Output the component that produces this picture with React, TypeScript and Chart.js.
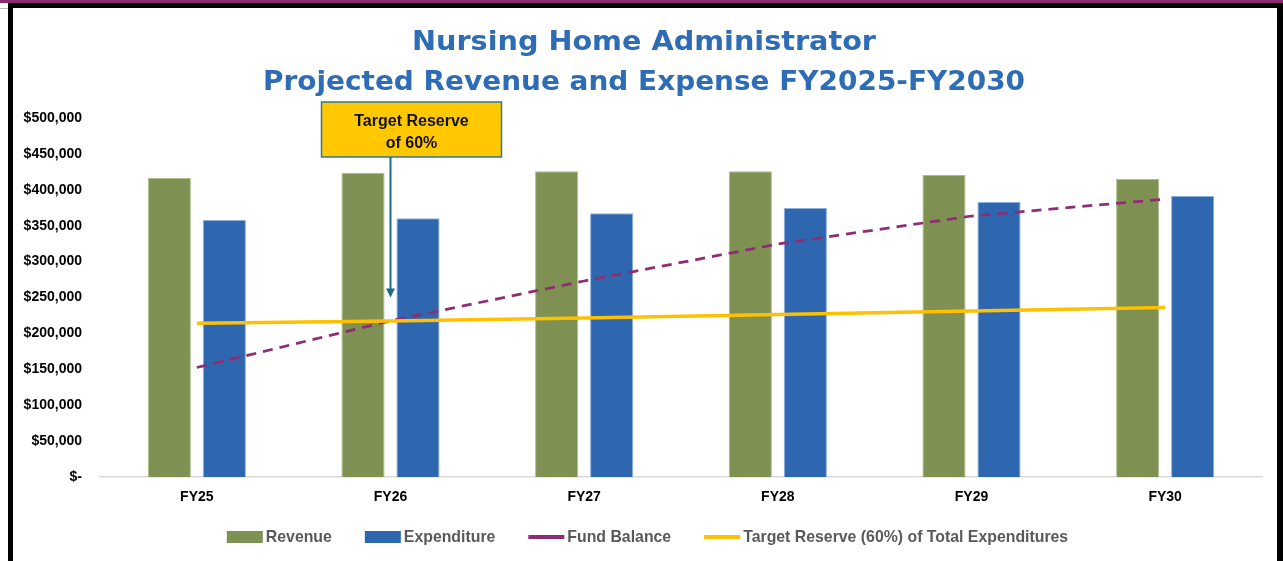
import React, { useEffect, useRef } from "react";
import { Chart, registerables } from "chart.js";

Chart.register(...registerables);

const categories = ["FY25", "FY26", "FY27", "FY28", "FY29", "FY30"];
const revenue = [416500, 423500, 426000, 426000, 420500, 415000];
const expenditure = [358000, 360500, 367500, 374500, 383000, 391500];
const fundBalance = [152500, 217500, 273000, 324500, 363500, 387000];
const targetReserve = [214000, 217300, 221600, 226300, 231200, 236100];
const seriesLabels = [
  "Revenue",
  "Expenditure",
  "Fund Balance",
  "Target Reserve (60%) of Total Expenditures",
];
const yMax = 500000;
const yStep = 50000;
const titleLines = [
  "Nursing Home Administrator",
  "Projected Revenue and Expense FY2025-FY2030",
];
const calloutLines = ["Target Reserve", "of 60%"];
const calloutCategory = 1;
const calloutTipValue = 250000;

const COLORS = {
  revenue: "#7F9152",
  revenueEdge: "#AFBD8C",
  expenditure: "#2E66B0",
  expenditureEdge: "#8EB0DD",
  fund: "#8E2C74",
  target: "#FFC000",
  title: "#2E6CB5",
  callout: "#FFC800",
  calloutEdge: "#2C7A94",
  arrow: "#1F6B84",
  legendText: "#595959",
};

const SANS = "'Liberation Sans', Arial, sans-serif";

function fittedText(
  ctx: CanvasRenderingContext2D,
  text: string,
  cx: number,
  baseline: number,
  font: string,
  targetWidth: number
) {
  ctx.save();
  ctx.font = font;
  const w = ctx.measureText(text).width;
  const sx = targetWidth / w;
  ctx.translate(cx, baseline);
  ctx.scale(sx, 1);
  ctx.textAlign = "center";
  ctx.textBaseline = "alphabetic";
  ctx.fillText(text, 0, 0);
  ctx.restore();
}

const decorPlugin = {
  id: "decor",
  afterDraw(chart: any) {
    const ctx: CanvasRenderingContext2D = chart.ctx;
    const area = chart.chartArea;
    const xs = chart.scales.x;
    const ys = chart.scales.y;

    // Title
    ctx.save();
    ctx.fillStyle = COLORS.title;
    const tFont = "bold 27px 'DejaVu Sans', sans-serif";
    const cx = 644;
    fittedText(ctx, titleLines[0], cx, area.top - 68, tFont, 464);
    fittedText(ctx, titleLines[1], cx, area.top - 28, tFont, 762);
    ctx.restore();

    // Callout box with arrow
    const ax = xs.getPixelForValue(calloutCategory);
    const boxL = ax - 69;
    const boxT = area.top - 16;
    const boxW = 180;
    const boxH = 55;
    ctx.save();
    ctx.fillStyle = COLORS.callout;
    ctx.fillRect(boxL, boxT, boxW, boxH);
    ctx.strokeStyle = COLORS.calloutEdge;
    ctx.lineWidth = 1.5;
    ctx.strokeRect(boxL, boxT, boxW, boxH);
    ctx.fillStyle = "#111";
    ctx.font = `bold 16px ${SANS}`;
    ctx.textAlign = "center";
    ctx.textBaseline = "middle";
    ctx.fillText(calloutLines[0], boxL + boxW / 2, boxT + 20);
    ctx.fillText(calloutLines[1], boxL + boxW / 2, boxT + 42);
    const tipY = ys.getPixelForValue(calloutTipValue);
    ctx.strokeStyle = COLORS.arrow;
    ctx.lineWidth = 2;
    ctx.beginPath();
    ctx.moveTo(ax, boxT + boxH);
    ctx.lineTo(ax, tipY - 7);
    ctx.stroke();
    ctx.fillStyle = COLORS.arrow;
    ctx.beginPath();
    ctx.moveTo(ax - 4.5, tipY - 9);
    ctx.lineTo(ax + 4.5, tipY - 9);
    ctx.lineTo(ax, tipY);
    ctx.closePath();
    ctx.fill();
    ctx.restore();

    // Legend
    const items = chart.data.datasets.map((ds: any) => ({
      label: ds.label as string,
      color: ds.type === "line" ? ds.borderColor : ds.backgroundColor,
      isLine: ds.type === "line",
    }));
    ctx.save();
    const lFont = `bold 17px ${SANS}`;
    ctx.font = lFont;
    let longest = 0;
    items.forEach((it: any) => {
      longest = Math.max(longest, ctx.measureText(it.label).width);
    });
    const sx = 325 / longest;
    const sw = 36;
    const gapText = 3;
    const gapItem = 33;
    const widths = items.map((it: any) => ctx.measureText(it.label).width * sx);
    let total = 0;
    widths.forEach((w: number, i: number) => {
      total += sw + gapText + w + (i > 0 ? gapItem : 0);
    });
    let x = chart.width / 2 + 6 - total / 2;
    const ly = area.bottom + 60;
    items.forEach((it: any, i: number) => {
      if (it.isLine) {
        ctx.strokeStyle = it.color;
        ctx.lineWidth = 4;
        ctx.setLineDash([]);
        ctx.beginPath();
        ctx.moveTo(x, ly);
        ctx.lineTo(x + sw, ly);
        ctx.stroke();
      } else {
        ctx.fillStyle = it.color;
        ctx.fillRect(x, ly - 6, sw, 12);
      }
      ctx.fillStyle = COLORS.legendText;
      ctx.save();
      ctx.translate(x + sw + gapText, ly);
      ctx.scale(sx, 1);
      ctx.textAlign = "left";
      ctx.textBaseline = "middle";
      ctx.fillText(it.label, 0, 0);
      ctx.restore();
      x += sw + gapText + widths[i] + gapItem;
    });
    ctx.restore();
  },
};

export default function App() {
  const ref = useRef<HTMLCanvasElement>(null);

  useEffect(() => {
    const canvas = ref.current;
    if (!canvas) return;
    const tickFont = { family: SANS, size: 14, weight: "bold" as const };
    const chart = new Chart(canvas, {
      type: "bar",
      data: {
        labels: categories,
        datasets: [
          {
            type: "bar",
            label: seriesLabels[0],
            data: revenue,
            backgroundColor: COLORS.revenue,
            borderColor: COLORS.revenueEdge,
            borderWidth: 1,
            order: 2,
          },
          {
            type: "bar",
            label: seriesLabels[1],
            data: expenditure,
            backgroundColor: COLORS.expenditure,
            borderColor: COLORS.expenditureEdge,
            borderWidth: 1,
            order: 2,
          },
          {
            type: "line",
            label: seriesLabels[2],
            data: fundBalance,
            borderColor: COLORS.fund,
            backgroundColor: COLORS.fund,
            borderWidth: 2.75,
            borderDash: [10, 7],
            pointRadius: 0,
            fill: false,
            tension: 0,
            order: 1,
          },
          {
            type: "line",
            label: seriesLabels[3],
            data: targetReserve,
            borderColor: COLORS.target,
            backgroundColor: COLORS.target,
            borderWidth: 3.5,
            pointRadius: 0,
            fill: false,
            tension: 0,
            order: 0,
          },
        ] as any,
      },
      options: {
        responsive: true,
        maintainAspectRatio: false,
        animation: false,
        layout: { padding: { top: 118, bottom: 54, left: 0, right: 21 } },
        datasets: {
          bar: { categoryPercentage: 0.568, barPercentage: 0.785 },
        },
        plugins: {
          legend: { display: false },
          title: { display: false },
          tooltip: { enabled: false },
        },
        scales: {
          x: {
            grid: { display: false, drawTicks: false },
            border: { display: true, color: "#D9D9D9", width: 1.5 },
            ticks: { color: "#000", font: tickFont, padding: 12 },
            afterFit: (s: any) => {
              s.height = 30;
            },
          },
          y: {
            min: 0,
            max: yMax,
            grid: { display: false, drawTicks: false },
            border: { display: false },
            ticks: {
              stepSize: yStep,
              color: "#000",
              font: tickFont,
              padding: 18,
              callback: (v: any) =>
                Number(v) === 0 ? "$-" : "$" + Number(v).toLocaleString("en-US"),
            },
            afterFit: (s: any) => {
              s.width = 100;
            },
          },
        },
      } as any,
      plugins: [decorPlugin],
    });
    return () => chart.destroy();
  }, []);

  const bar = (style: React.CSSProperties) => (
    <div style={{ position: "absolute", ...style }} />
  );

  return (
    <div
      style={{
        position: "fixed",
        left: 0,
        top: 0,
        width: 1283,
        height: 561,
        background: "#fff",
        overflow: "hidden",
      }}
    >
      <div style={{ position: "absolute", left: 0, top: 0, width: 1283, height: 561 }}>
        <canvas ref={ref} />
      </div>
      {bar({ left: 0, top: 0, width: 1283, height: 3, background: "#8B2B6F" })}
      {bar({ left: 8, top: 3, width: 1275, height: 5, background: "#000" })}
      {bar({ left: 0, top: 8, width: 8, height: 1, background: "#BDBDBD" })}
      {bar({ left: 8, top: 3, width: 5, height: 558, background: "#000" })}
      {bar({ left: 1277, top: 3, width: 6, height: 558, background: "#000" })}
    </div>
  );
}
